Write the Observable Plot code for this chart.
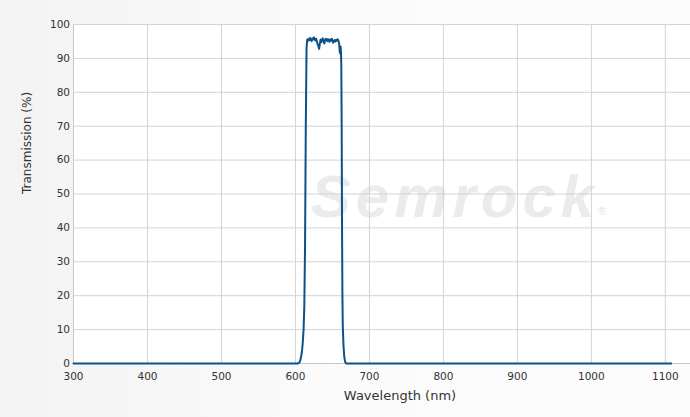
<!DOCTYPE html>
<html>
<head>
<meta charset="utf-8">
<script src="https://cdn.jsdelivr.net/npm/d3@7"></script>
<script src="https://cdn.jsdelivr.net/npm/@observablehq/plot@0.6"></script>
<style>
  html, body { margin: 0; padding: 0; background: #fafafa; }
  #chart { width: 690px; height: 417px; }
</style>
</head>
<body>
<div id="chart"></div>
<script>
// Wavelength (nm)
const wavelength = [
  300, 400, 500, 580, 600, 603, 604, 605, 606, 607, 608, 609, 610, 611, 612, 613, 614, 615,
  616, 617, 618, 619, 620, 621, 622, 623, 624, 625, 626, 627, 628, 629, 630, 631, 632, 633,
  634, 635, 636, 637, 638, 639, 640, 641, 642, 643, 644, 645, 646, 647, 648, 649, 650, 651,
  652, 653, 654, 655, 656, 657, 658, 659, 660, 660.5, 661, 661.5, 662, 662.5, 663, 663.5,
  664, 665, 666, 667, 668, 669, 680, 700, 800, 900, 1000, 1108
];
// Transmission (%)
const transmission = [
  0, 0, 0, 0, 0, 0, 0.1, 0.2, 0.6, 1.3, 2.4, 4, 6.5, 10, 17, 35, 70, 93,
  95.6, 95.2, 95.8, 95.4, 96.0, 95.5, 95.1, 95.9, 95.6, 96.2, 95.7, 95.3, 95.8, 95.0, 94.2, 93.6, 92.8, 94.3,
  95.6, 94.8, 95.5, 95.9, 95.2, 94.4, 95.3, 95.8, 95.6, 95.1, 95.7, 95.4, 94.9, 95.6, 95.2, 95.8, 95.3, 94.6,
  95.1, 95.4, 95.0, 95.5, 95.2, 95.6, 95.3, 94.5, 91.8, 91.5, 93.5, 92.0, 88, 70, 40, 20,
  11, 5, 2, 0.6, 0.1, 0, 0, 0, 0, 0, 0, 0
];
const xTicks = [300, 400, 500, 600, 700, 800, 900, 1000, 1100];
const yTicks = [0, 10, 20, 30, 40, 50, 60, 70, 80, 90, 100];
const xLabel = "Wavelength (nm)";
const yLabel = "Transmission (%)";
const watermark = "Semrock";

const data = wavelength.map((w, i) => ({w, t: transmission[i]}));

const plot = Plot.plot({
  width: 690,
  height: 417,
  marginLeft: 73,
  marginRight: 0,
  marginTop: 24,
  marginBottom: 54,
  style: {
    background: "linear-gradient(to right, #f3f3f3, #fbfbfb 50%, #fcfcfc)",
    fontFamily: "DejaVu Sans",
    fontSize: "10.5px",
    color: "#333"
  },
  x: {domain: [300, 1134], ticks: xTicks, label: null},
  y: {domain: [0, 100], ticks: yTicks, label: null},
  marks: [
    Plot.frame({fill: "white", stroke: null}),
    Plot.text([watermark], {
      frameAnchor: "middle", dx: 73, dy: 4, text: d => d,
      fontFamily: "Liberation Sans", fontWeight: "bold", fontStyle: "italic",
      fontSize: 60, fill: "#ebebeb"
    }),
    Plot.text(["®"], {
      frameAnchor: "middle", dx: 220, dy: 17, text: d => d,
      fontFamily: "Liberation Sans", fontSize: 11, fill: "#e4e4e4"
    }),
    Plot.gridX(xTicks, {stroke: "#d3d3d3", strokeOpacity: 1}),
    Plot.gridY(yTicks, {stroke: "#d3d3d3", strokeOpacity: 1}),
    Plot.ruleX([300], {stroke: "#c8c8c8"}),
    Plot.ruleY([0], {stroke: "#c8c8c8"}),
    Plot.axisX({ticks: xTicks, tickSize: 0, tickPadding: 9, label: null, fill: "#333", tickFormat: d => String(d)}),
    Plot.axisY({ticks: yTicks, tickSize: 0, tickPadding: 3.5, label: null, fill: "#333", tickFormat: d => String(d)}),
    Plot.line(data, {x: "w", y: "t", stroke: "#0e5186", strokeWidth: 2}),
    Plot.text([xLabel], {
      frameAnchor: "bottom", dx: 18, dy: 36, text: d => d,
      fontFamily: "DejaVu Sans", fontSize: 13, fill: "#333"
    }),
    Plot.text([yLabel], {
      frameAnchor: "left", dx: -46, rotate: -90, text: d => d,
      fontFamily: "DejaVu Sans", fontSize: 12, fill: "#333"
    })
  ]
});

d3.select(plot).selectAll("text")
  .filter(function() { return this.textContent === watermark; })
  .style("letter-spacing", "5px");
document.getElementById("chart").appendChild(plot);
</script>
</body>
</html>
